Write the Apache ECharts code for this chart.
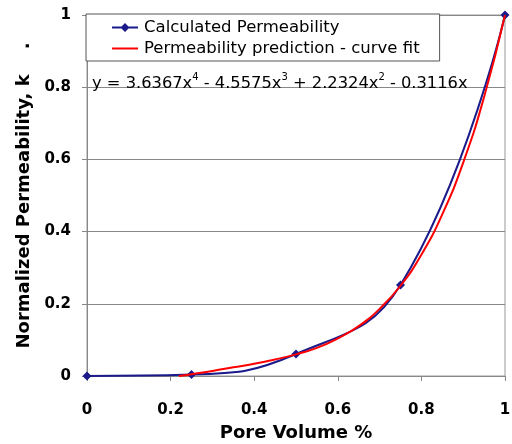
<!DOCTYPE html>
<html>
<head>
<meta charset="utf-8">
<script src="https://cdn.jsdelivr.net/npm/echarts@6/dist/echarts.min.js"></script>
<style>html,body{margin:0;padding:0;background:#fff}#c{width:512px;height:444px}</style>
</head>
<body>
<div id="c"></div>
<script>
// Data
var calcX = [0, 0.25, 0.5, 0.75, 1];
var calcY = [0, 0.004, 0.061, 0.252, 1];
var fitX = [0.22, 0.25, 0.3, 0.35, 0.4, 0.45, 0.5, 0.55, 0.6, 0.65, 0.7, 0.75, 0.8, 0.85, 0.9, 0.95, 1];
var fitY = [0.000, 0.005, 0.014, 0.024, 0.034, 0.046, 0.060, 0.078, 0.104, 0.138, 0.186, 0.250, 0.336, 0.448, 0.591, 0.773, 1.0];
var xTicks = [0, 0.2, 0.4, 0.6, 0.8, 1];
var yTicks = [0, 0.2, 0.4, 0.6, 0.8, 1];
var seriesNames = ['Calculated Permeability', 'Permeability prediction - curve fit'];
var xTitle = 'Pore Volume %';
var yTitle = 'Normalized Permeability, k    .';

function pairs(xs, ys){ return xs.map(function(x,i){ return [x, ys[i]]; }); }

var chart = echarts.init(document.getElementById('c'), null, {renderer:'canvas'});
var font = 'DejaVu Sans';
var blueIcon = 'path://M0,3.6 L9.5,3.6 L13,0 L16.5,3.6 L26,3.6 L26,5.4 L16.5,5.4 L13,9 L9.5,5.4 L0,5.4 Z';
var redIcon = 'path://M0,0 L0.01,0 L0.01,0.01 Z M0,3.6 L26,3.6 L26,5.4 L0,5.4 Z M0,9 L0.01,9 L0.01,8.99 Z';
chart.setOption({
  animation: false,
  backgroundColor: '#fff',
  grid: {left: 87, right: 7, top: 15, bottom: 68, show: true, borderColor: '#999', borderWidth: 1,
    outerBoundsMode: 'none', containLabel: false},
  title: {
    left: 87, top: 67,
    text: '{a|y = 3.6367x}{s|4}{a| - 4.5575x}{s|3}{a| + 2.2324x}{s|2}{a| - 0.3116x}',
    textStyle: {
      fontWeight: 'normal',
      rich: {
        a: {fontFamily: font, fontSize: 16.3, fontWeight: 'normal', color: '#000', verticalAlign: 'bottom', lineHeight: 20},
        s: {fontFamily: font, fontSize: 10, fontWeight: 'normal', color: '#000', verticalAlign: 'top', lineHeight: 20}
      }
    }
  },
  legend: {
    left: 86, top: 14, orient: 'vertical',
    padding: [5, 20, 4, 26],
    itemGap: 4,
    itemWidth: 26, itemHeight: 9,
    backgroundColor: '#fff', borderColor: '#555', borderWidth: 1,
    textStyle: {fontFamily: font, fontSize: 16.5, color: '#000', padding: [0, 0, 0, 1]},
    data: [
      {name: seriesNames[0], icon: blueIcon, itemStyle: {color: '#1a1a8a'}},
      {name: seriesNames[1], icon: redIcon, itemStyle: {color: '#ff0000'}}
    ]
  },
  xAxis: {
    type: 'value', min: 0, max: 1, interval: 0.2,
    name: xTitle, nameLocation: 'middle', nameGap: 48,
    nameTextStyle: {fontFamily: font, fontSize: 18, fontWeight: 'bold', color: '#000'},
    axisLine: {lineStyle: {color: '#888'}},
    axisTick: {show: true, length: 5, lineStyle: {color: '#888'}},
    axisLabel: {fontFamily: font, fontSize: 15, fontWeight: 'bold', color: '#000', margin: 27,
      formatter: function(v){ return String(v); }},
    splitLine: {show: false}
  },
  yAxis: {
    type: 'value', min: 0, max: 1, interval: 0.2,
    name: yTitle, nameLocation: 'middle', nameGap: 52,
    nameTextStyle: {fontFamily: font, fontSize: 18, fontWeight: 'bold', color: '#000'},
    axisLine: {show: true, lineStyle: {color: '#888'}},
    axisTick: {show: true, length: 5, lineStyle: {color: '#888'}},
    axisLabel: {fontFamily: font, fontSize: 15, fontWeight: 'bold', color: '#000', margin: 16,
      formatter: function(v){ return String(v); }},
    splitLine: {show: true, lineStyle: {color: '#888', width: 1}}
  },
  series: [
    {
      name: seriesNames[0], type: 'line', smooth: 0.45,
      data: pairs(calcX, calcY),
      symbol: 'diamond', symbolSize: 9,
      itemStyle: {color: '#1a1a8a'},
      lineStyle: {color: '#1a1a8a', width: 2},
      z: 2
    },
    {
      name: seriesNames[1], type: 'line', smooth: true,
      data: pairs(fitX, fitY),
      symbol: 'none',
      itemStyle: {color: '#ff0000'},
      lineStyle: {color: '#ff0000', width: 2},
      z: 3
    }
  ]
});
</script>
</body>
</html>
